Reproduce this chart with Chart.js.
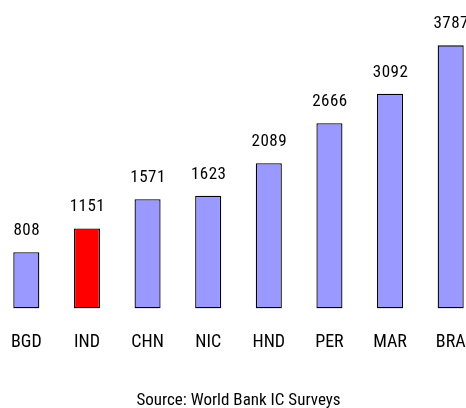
<!DOCTYPE html>
<html>
<head>
<meta charset="utf-8">
<script src="https://cdn.jsdelivr.net/npm/chart.js@4/dist/chart.umd.min.js"></script>
<style>
  html, body { margin: 0; padding: 0; background: #fff; overflow: hidden; }
  #wrap { position: absolute; left: -4px; top: 0; width: 485px; height: 408px; }
</style>
</head>
<body>
<div id="wrap"><canvas id="c"></canvas></div>
<script>
const categories = ["BGD", "IND", "CHN", "NIC", "HND", "PER", "MAR", "BRA"];
const values = [808, 1151, 1571, 1623, 2089, 2666, 3092, 3787];
const highlighted = "IND";
const sourceNote = "Source: World Bank IC Surveys";

const FONT = "'Roboto Condensed', 'Liberation Sans Narrow', 'Liberation Sans', sans-serif";

const valueLabels = {
  id: 'valueLabels',
  afterDatasetsDraw(chart) {
    const ctx = chart.ctx;
    const meta = chart.getDatasetMeta(0);
    ctx.save();
    ctx.font = "17px " + FONT;
    ctx.fillStyle = "#000";
    ctx.textAlign = "center";
    ctx.textBaseline = "alphabetic";
    try { ctx.letterSpacing = "0.5px"; } catch (e) {}
    meta.data.forEach((bar, i) => {
      ctx.fillText(String(chart.data.datasets[0].data[i]), bar.x + 0.5, bar.y - 17);
    });
    ctx.restore();
  },
  afterDraw(chart) {
    const ctx = chart.ctx;
    ctx.save();
    ctx.font = "17px " + FONT;
    ctx.fillStyle = "#000";
    ctx.textAlign = "center";
    ctx.textBaseline = "alphabetic";
    ctx.fillText(sourceNote, chart.width / 2, chart.scales.x.bottom + 47);
    ctx.restore();
  }
};

new Chart(document.getElementById('c'), {
  type: 'bar',
  data: {
    labels: categories,
    datasets: [{
      data: values,
      backgroundColor: categories.map(c => c === highlighted ? '#FF0000' : '#9999FF'),
      borderColor: '#000000',
      borderWidth: 1.3,
      borderSkipped: false,
      categoryPercentage: 1,
      barPercentage: 0.43
    }]
  },
  options: {
    responsive: true,
    maintainAspectRatio: false,
    animation: false,
    layout: { padding: { top: 0, left: 0, right: 0, bottom: 50 } },
    plugins: {
      legend: { display: false },
      tooltip: { enabled: false },
      title: { display: false }
    },
    scales: {
      x: {
        grid: { display: false, drawTicks: true, tickLength: 18 },
        border: { display: false },
        ticks: { color: '#000', padding: 5, font: { family: FONT, size: 18 } }
      },
      y: {
        display: false,
        min: 0,
        max: 4440
      }
    }
  },
  plugins: [valueLabels]
});
</script>
</body>
</html>
